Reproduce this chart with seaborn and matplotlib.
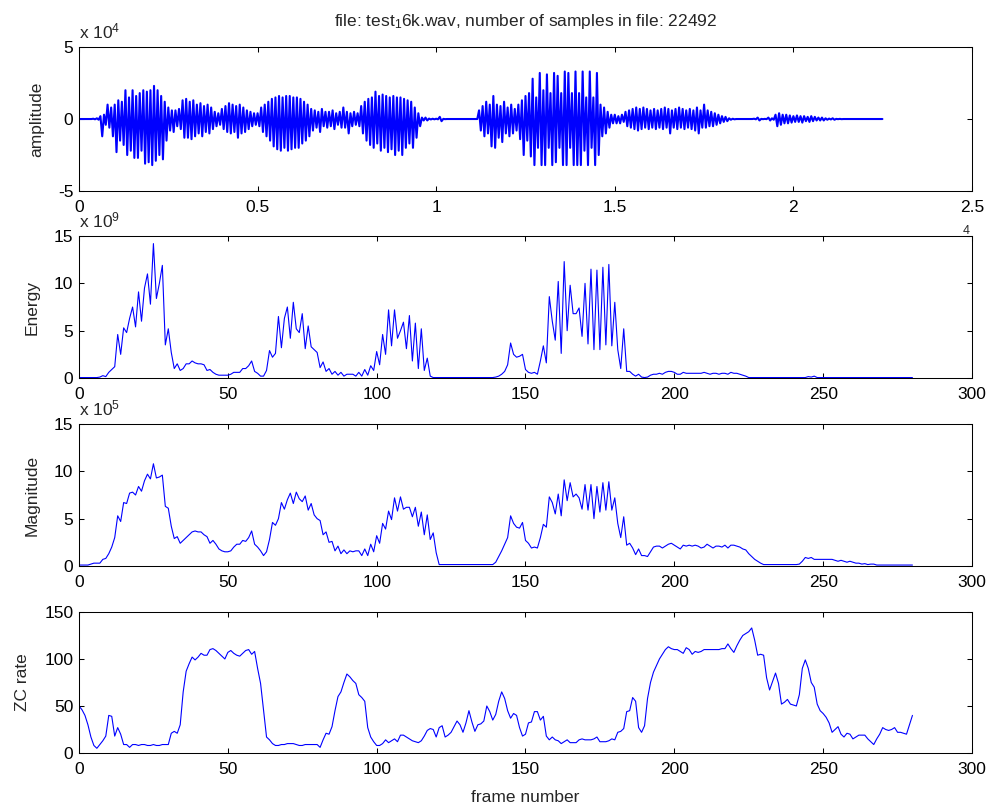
import numpy as np
import pandas as pd
import matplotlib
matplotlib.use("Agg")
import matplotlib.pyplot as plt
import seaborn as sns

# ---------------------------------------------------------------
# DATA
# ---------------------------------------------------------------
n_samples = 22492
wave_step = 0.01  # x 10^4 samples between envelope readings

# waveform envelope, x 10^4, one reading every 100 samples
wave_upper = [
    0, 0, 0, 0, 0.02, 0.05, 0.2, 0.3, 1.0, 0.8,
    1.0, 1.3, 1.2, 2.0, 1.5, 2.0, 1.6, 1.8, 2.0, 1.9,
    2.0, 2.3, 2.0, 1.6, 1.2, 0.8, 0.6, 0.6, 0.7, 1.3,
    1.4, 1.2, 1.3, 1.0, 1.1, 0.9, 1.0, 0.8, 0.5, 0.4,
    0.7, 0.9, 1.1, 1.0, 0.9, 1.0, 0.8, 0.6, 0.5, 0.4,
    0.4, 0.8, 1.0, 1.2, 1.4, 1.5, 1.6, 1.5, 1.6, 1.6,
    1.5, 1.5, 1.4, 1.2, 1.0, 0.7, 0.6, 0.5, 0.7, 0.5,
    0.5, 0.6, 0.4, 0.5, 0.8, 0.5, 0.4, 0.5, 0.4, 0.9,
    1.2, 1.4, 1.5, 1.9, 1.6, 1.7, 1.6, 1.5, 1.6, 1.5,
    1.5, 1.4, 1.3, 1.2, 0.8, 0.4, 0.1, 0.1, 0.03, 0.02,
    0.02, 0.15, 0.01, 0, 0, 0, 0, 0, 0, 0,
    0, 0, 0.6, 0.9, 1.2, 1.0, 1.6, 1.0, 0.9, 1.2,
    0.8, 1.0, 0.7, 1.0, 1.3, 1.6, 1.8, 2.8, 1.5, 3.2,
    2.0, 3.1, 1.8, 3.2, 3.0, 1.8, 3.3, 3.2, 1.8, 3.3,
    1.8, 3.3, 1.5, 3.3, 1.5, 3.2, 1.0, 0.8, 0.5, 0.3,
    0.3, 0.2, 0.3, 0.5, 0.6, 0.7, 0.8, 0.7, 0.8, 0.7,
    0.6, 0.7, 0.6, 0.7, 0.8, 0.7, 0.6, 0.7, 0.8, 0.7,
    0.6, 0.7, 0.6, 0.8, 0.6, 1.0, 0.6, 0.5, 0.4, 0.3,
    0.2, 0.15, 0.05, 0.02, 0, 0, 0, 0, 0, 0.02,
    0.1, 0.01, 0.01, 0.1, 0.05, 0.3, 0.4, 0.3, 0.3, 0.25,
    0.2, 0.25, 0.2, 0.2, 0.15, 0.2, 0.15, 0.1, 0.1, 0.05,
    0.03, 0.05, 0.01, 0.01, 0, 0, 0, 0, 0, 0,
    0, 0, 0, 0, 0,
]
wave_lower = [
    0, 0, 0, 0, -0.02, -0.05, -1.2, -0.4, -0.6, -1.2,
    -2.3, -1.5, -1.8, -2.5, -2.2, -2.7, -2.7, -2.2, -3.1, -3.0,
    -3.2, -2.9, -2.5, -2.8, -1.5, -0.8, -0.9, -0.5, -0.7, -1.3,
    -1.3, -1.4, -1.2, -1.0, -1.2, -0.9, -1.0, -0.7, -0.5, -0.4,
    -0.7, -0.9, -1.0, -0.9, -1.3, -1.0, -0.9, -0.7, -0.5, -0.4,
    -0.5, -0.9, -1.2, -1.5, -1.9, -2.1, -2.2, -2.0, -2.2, -2.1,
    -2.0, -2.0, -1.7, -1.5, -1.2, -0.8, -0.6, -0.9, -0.5, -0.6,
    -0.5, -0.7, -0.4, -0.6, -0.6, -1.0, -0.5, -0.4, -0.5, -1.0,
    -1.5, -1.8, -2.0, -1.7, -2.2, -2.0, -2.3, -2.1, -2.5, -2.2,
    -2.5, -2.0, -1.7, -2.0, -1.3, -0.5, -0.1, -0.1, -0.03, -0.02,
    -0.02, -0.15, -0.01, 0, 0, 0, 0, 0, 0, 0,
    0, 0, -0.8, -1.2, -1.0, -1.9, -2.0, -1.3, -1.6, -1.0,
    -1.2, -1.0, -0.8, -1.4, -2.5, -1.5, -2.6, -3.2, -2.0, -3.2,
    -3.2, -2.0, -3.2, -3.0, -2.0, -3.2, -3.2, -2.0, -3.2, -3.2,
    -3.2, -2.2, -3.2, -2.0, -3.2, -2.5, -1.2, -1.0, -0.6, -0.3,
    -0.3, -0.3, -0.2, -0.5, -0.6, -0.7, -0.8, -0.7, -0.6, -0.7,
    -0.6, -0.7, -0.6, -0.7, -0.6, -1.0, -0.6, -0.7, -0.6, -0.7,
    -0.6, -0.7, -0.8, -1.0, -0.6, -0.6, -0.5, -0.5, -0.4, -0.3,
    -0.2, -0.15, -0.05, -0.02, 0, 0, 0, 0, 0, -0.02,
    -0.1, -0.01, -0.01, -0.1, -0.05, -0.5, -0.4, -0.3, -0.3, -0.25,
    -0.2, -0.2, -0.25, -0.15, -0.2, -0.15, -0.1, -0.1, -0.1, -0.05,
    -0.03, -0.05, -0.01, -0.01, 0, 0, 0, 0, 0, 0,
    0, 0, 0, 0, 0,
]

# short-time energy, x 10^9
energy = [
    0.05, 0.05, 0.05, 0.05, 0.05, 0.05, 0.05, 0.1, 0.25, 0.15,
    0.6, 0.9, 1.2, 4.6, 2.5, 5.3, 4.8, 6.3, 7.5, 5.4,
    9.1, 6.0, 9.5, 11.0, 7.8, 14.2, 8.4, 10.0, 11.9, 3.5,
    5.2, 2.7, 1.0, 1.5, 0.8, 1.0, 1.5, 1.5, 1.8, 1.6,
    1.5, 1.5, 1.4, 0.8, 0.9, 0.6, 0.4, 0.3, 0.3, 0.3,
    0.3, 0.4, 0.6, 0.6, 0.6, 1.0, 1.0, 1.3, 1.8, 0.7,
    0.5, 0.2, 0.2, 0.8, 2.9, 2.2, 2.6, 6.5, 3.2, 6.3,
    7.5, 4.2, 8.0, 5.2, 4.8, 6.8, 3.1, 5.5, 3.3, 3.0,
    2.7, 1.1, 1.7, 0.7, 1.0, 0.4, 0.7, 0.3, 0.6, 0.2,
    0.4, 0.4, 0.4, 0.2, 0.6, 0.2, 0.9, 0.3, 1.3, 0.8,
    2.8, 1.4, 4.6, 2.5, 7.2, 3.4, 7.2, 4.2, 5.0, 5.9,
    3.1, 6.6, 1.8, 5.8, 1.0, 5.2, 0.8, 2.1, 0.2, 0.05,
    0.05, 0.05, 0.05, 0.05, 0.05, 0.05, 0.05, 0.05, 0.05, 0.05,
    0.05, 0.05, 0.05, 0.05, 0.05, 0.05, 0.05, 0.05, 0.05, 0.05,
    0.1, 0.2, 0.4, 0.7, 1.4, 3.7, 2.5, 2.2, 2.3, 2.5,
    0.9, 0.6, 0.5, 0.6, 0.4, 1.8, 3.4, 1.6, 8.6, 6.0,
    4.0, 10.2, 2.6, 12.3, 5.0, 9.8, 6.8, 6.8, 7.4, 4.4,
    10.0, 3.6, 11.5, 3.0, 11.4, 3.0, 11.7, 3.5, 12.0, 3.4,
    8.0, 3.0, 1.0, 5.2, 0.7, 0.7, 0.4, 0.2, 0.4, 0.1,
    0.05, 0.1, 0.3, 0.4, 0.4, 0.5, 0.4, 0.6, 0.7, 0.7,
    0.6, 0.4, 0.4, 0.6, 0.5, 0.5, 0.5, 0.5, 0.5, 0.5,
    0.6, 0.5, 0.4, 0.5, 0.5, 0.4, 0.5, 0.5, 0.4, 0.6,
    0.5, 0.5, 0.4, 0.3, 0.2, 0.05, 0.05, 0.05, 0.05, 0.05,
    0.05, 0.05, 0.05, 0.05, 0.05, 0.05, 0.05, 0.05, 0.05, 0.05,
    0.05, 0.05, 0.05, 0.05, 0.05, 0.15, 0.1, 0.2, 0.05, 0.05,
    0.05, 0.05, 0.05, 0.05, 0.05, 0.05, 0.05, 0.05, 0.05, 0.05,
    0.05, 0.05, 0.05, 0.05, 0.05, 0.05, 0.05, 0.05, 0.05, 0.05,
    0.05, 0.05, 0.05, 0.05, 0.05, 0.05, 0.05, 0.05, 0.05, 0.05,
    0.05,
]

# short-time magnitude, x 10^5
magnitude = [
    0.1, 0.1, 0.1, 0.1, 0.2, 0.3, 0.3, 0.3, 0.7, 0.8,
    1.3, 2.0, 3.0, 5.3, 4.7, 6.7, 6.6, 7.7, 7.8, 7.5,
    8.4, 7.9, 9.0, 9.7, 9.2, 10.8, 9.3, 9.4, 9.6, 6.3,
    6.1, 4.2, 2.9, 3.1, 2.4, 2.7, 3.0, 3.3, 3.6, 3.7,
    3.6, 3.6, 3.3, 3.1, 2.4, 2.7, 2.3, 1.8, 1.6, 1.5,
    1.5, 1.6, 2.0, 2.3, 2.3, 2.7, 2.6, 3.0, 3.7, 2.3,
    2.0, 1.6, 1.1, 1.5, 2.8, 4.6, 4.3, 5.0, 6.7, 6.0,
    7.0, 7.7, 6.6, 7.8, 7.1, 6.8, 7.4, 5.9, 6.6, 5.4,
    5.0, 4.8, 3.3, 3.6, 2.5, 2.6, 1.6, 2.1, 1.3, 1.7,
    1.3, 1.6, 1.5, 1.6, 1.6, 1.1, 1.8, 1.1, 2.3, 1.5,
    3.2, 2.4, 4.5, 3.9, 5.8, 4.9, 7.2, 5.8, 7.3, 6.0,
    6.2, 6.2, 5.2, 6.2, 4.2, 5.7, 3.3, 5.4, 2.8, 3.5,
    1.4, 0.15, 0.15, 0.15, 0.15, 0.15, 0.15, 0.15, 0.15, 0.15,
    0.15, 0.15, 0.15, 0.15, 0.15, 0.15, 0.15, 0.15, 0.15, 0.15,
    0.4, 1.0, 1.6, 2.3, 3.0, 5.3, 4.5, 4.1, 4.0, 4.6,
    2.7, 2.4, 1.9, 2.0, 1.9, 3.0, 4.4, 4.1, 7.3, 6.7,
    5.5, 7.6, 5.3, 9.1, 6.9, 8.8, 7.3, 7.6, 7.2, 6.0,
    8.6, 5.9, 8.6, 5.0, 8.4, 5.7, 8.8, 5.9, 8.9, 5.9,
    7.2, 4.5, 3.0, 5.2, 2.2, 2.4, 1.9, 1.2, 1.8, 1.1,
    1.1, 1.0, 1.5, 2.0, 2.1, 2.1, 1.9, 2.1, 2.3, 2.4,
    2.2, 2.0, 1.8, 2.2, 2.1, 2.2, 2.1, 2.2, 2.1, 1.9,
    2.0, 2.3, 2.1, 1.9, 2.1, 2.1, 2.0, 2.2, 1.9, 2.2,
    2.2, 2.1, 2.0, 1.8, 1.7, 1.3, 1.0, 0.7, 0.5, 0.3,
    0.15, 0.15, 0.15, 0.15, 0.15, 0.15, 0.15, 0.15, 0.15, 0.15,
    0.15, 0.15, 0.2, 0.5, 0.9, 0.8, 0.9, 0.7, 0.7, 0.7,
    0.7, 0.7, 0.7, 0.7, 0.6, 0.5, 0.6, 0.5, 0.4, 0.5,
    0.4, 0.3, 0.3, 0.2, 0.25, 0.15, 0.2, 0.2, 0.1, 0.1,
    0.1, 0.1, 0.1, 0.1, 0.1, 0.1, 0.1, 0.1, 0.1, 0.1,
    0.1,
]

# zero-crossing rate
zc_rate = [
    50, 46, 40, 30, 17, 8, 5, 9, 13, 18,
    40, 39, 18, 27, 20, 9, 9, 6, 9, 9,
    8, 9, 9, 8, 8, 9, 8, 8, 9, 9,
    9, 21, 23, 21, 30, 65, 87, 95, 102, 99,
    102, 106, 104, 104, 110, 111, 109, 106, 103, 100,
    107, 109, 106, 104, 103, 106, 109, 110, 105, 108,
    90, 74, 45, 17, 14, 10, 8, 8, 9, 9,
    10, 10, 10, 9, 8, 8, 9, 9, 9, 9,
    9, 6, 14, 21, 20, 28, 45, 60, 65, 75,
    84, 81, 77, 74, 62, 59, 55, 27, 17, 12,
    8, 8, 10, 14, 11, 13, 15, 12, 19, 19,
    17, 15, 13, 12, 11, 13, 18, 24, 26, 25,
    17, 27, 29, 17, 19, 22, 28, 34, 30, 22,
    32, 45, 33, 23, 30, 31, 34, 50, 44, 35,
    41, 55, 65, 58, 45, 37, 42, 40, 27, 18,
    20, 32, 33, 44, 44, 35, 39, 18, 14, 17,
    14, 13, 10, 12, 14, 11, 11, 11, 14, 15,
    14, 14, 14, 15, 17, 12, 12, 12, 13, 15,
    14, 22, 23, 26, 44, 45, 59, 55, 27, 22,
    29, 58, 75, 86, 93, 100, 105, 110, 113, 111,
    110, 110, 108, 106, 112, 110, 105, 108, 107, 108,
    110, 110, 110, 110, 110, 110, 111, 111, 116, 111,
    107, 114, 120, 125, 127, 129, 133, 120, 104, 105,
    104, 80, 67, 76, 85, 74, 52, 54, 57, 52,
    51, 50, 62, 90, 99, 90, 75, 70, 52, 45,
    42, 38, 32, 22, 25, 28, 20, 17, 21, 20,
    15, 17, 19, 19, 19, 15, 12, 9, 15, 20,
    27, 25, 24, 25, 27, 22, 22, 21, 20, 30,
    40,
]

title = r"file: test$_1$6k.wav, number of samples in file: 22492"
ylabels = ["amplitude", "Energy", "Magnitude", "ZC rate"]
exponents = ["4", "9", "5", None]

# ---------------------------------------------------------------
# STYLE
# ---------------------------------------------------------------
sns.set_theme(style="ticks", rc={
    "xtick.direction": "in",
    "ytick.direction": "in",
    "xtick.top": True,
    "ytick.right": True,
    "xtick.major.size": 3.5,
    "ytick.major.size": 3.5,
    "xtick.major.width": 0.75,
    "ytick.major.width": 0.75,
    "xtick.major.pad": 6.5,
    "ytick.major.pad": 4,
    "axes.linewidth": 0.75,
    "axes.edgecolor": "black",
    "xtick.color": "black",
    "ytick.color": "black",
    "axes.unicode_minus": False,
    "mathtext.default": "regular",
})
plt.rcParams["font.family"] = ["Liberation Sans", "DejaVu Sans"]
FS = 12.5

# ---------------------------------------------------------------
# BUILD
# ---------------------------------------------------------------
frames = np.arange(len(energy))
df = pd.DataFrame({"frame": frames, "energy": energy,
                   "magnitude": magnitude, "zc": zc_rate})

# waveform drawn as alternating upper / lower excursions
t = np.arange(len(wave_upper)) * wave_step
wave_x = np.column_stack([t, t + wave_step / 2]).ravel()
wave_y = np.column_stack([wave_upper, wave_lower]).ravel()
wave_x = np.append(wave_x, n_samples / 1e4)
wave_y = np.append(wave_y, 0.0)
wave = pd.DataFrame({"x": wave_x, "y": wave_y})

fig = plt.figure(figsize=(9.9, 8.05), dpi=100)
rects = [
    [0.0798, 0.7627, 0.9020, 0.1789],
    [0.0798, 0.5304, 0.9020, 0.1764],
    [0.0798, 0.2969, 0.9020, 0.1764],
    [0.0798, 0.0646, 0.9020, 0.1752],
]
axes = [fig.add_axes(r) for r in rects]
ax1, ax2, ax3, ax4 = axes

line_kw = dict(color="blue", linewidth=0.8, estimator=None, sort=False, legend=False)

sns.lineplot(data=wave, x="x", y="y", ax=ax1, **{**line_kw, "linewidth": 1.5})
sns.lineplot(data=df, x="frame", y="energy", ax=ax2, **line_kw)
sns.lineplot(data=df, x="frame", y="magnitude", ax=ax3, **line_kw)
sns.lineplot(data=df, x="frame", y="zc", ax=ax4, **line_kw)

ax1.set_xlim(0, 2.5)
ax1.set_xticks([0, 0.5, 1, 1.5, 2, 2.5])
ax1.set_xticklabels(["0", "0.5", "1", "1.5", "2", "2.5"])
ax1.set_ylim(-5, 5)
ax1.set_yticks([-5, 0, 5])

for ax in (ax2, ax3):
    ax.set_ylim(0, 15)
    ax.set_yticks([0, 5, 10, 15])
ax4.set_ylim(0, 150)
ax4.set_yticks([0, 50, 100, 150])

for ax in (ax2, ax3, ax4):
    ax.set_xlim(0, 300)
    ax.set_xticks(range(0, 301, 50))

for ax, lab, ex in zip(axes, ylabels, exponents):
    ax.set_facecolor("white")
    ax.patch.set_alpha(1.0)
    ax.set_xlabel("")
    ax.set_ylabel(lab, fontsize=FS, labelpad=10)
    ax.tick_params(labelsize=FS, top=True, right=True, direction="in")
    for s in ax.spines.values():
        s.set_visible(True)
        s.set_color("black")
        s.set_linewidth(0.75)
    if ex is not None:
        ax.annotate(r"x 10$^{%s}$" % ex, xy=(0, 1), xycoords="axes fraction",
                    xytext=(0, 6), textcoords="offset points",
                    ha="left", va="baseline", fontsize=FS, annotation_clip=False)

# exponent of the first panel's x axis, mostly hidden behind panel 2
ax1.annotate("4", xy=(1, 0), xycoords="axes fraction", xytext=(-4.5, -29),
             textcoords="offset points", ha="center", va="center",
             fontsize=9, annotation_clip=False)

ax1.set_title(title, fontsize=FS, pad=15)
ax4.set_xlabel("frame number", fontsize=FS, labelpad=9)

fig.savefig("out.png", dpi=100, facecolor="white")
